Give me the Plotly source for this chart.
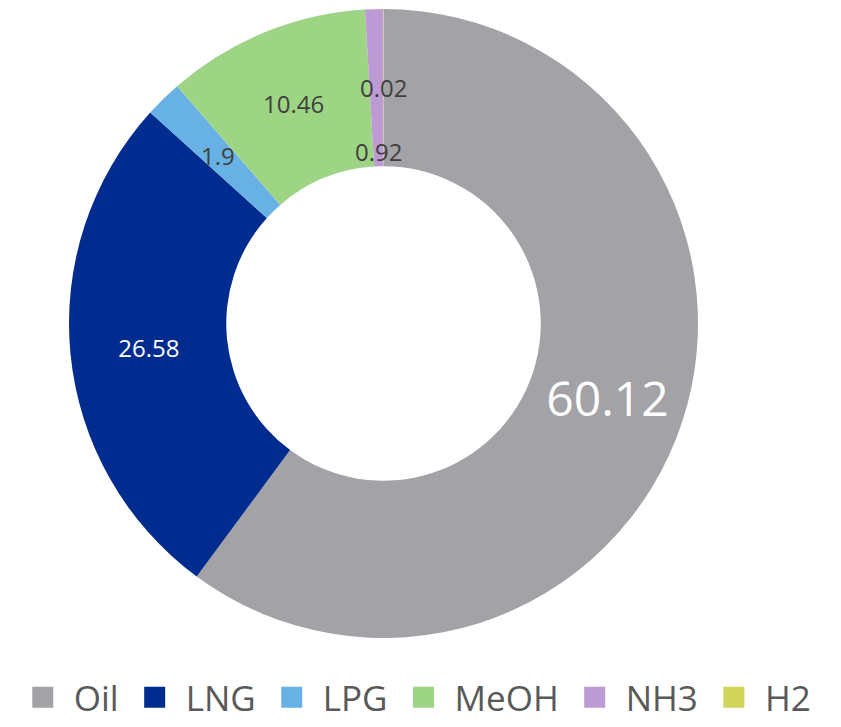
import math
import plotly.graph_objects as go

categories = ["Oil", "LNG", "LPG", "MeOH", "NH3", "H2"]
values = [60.12, 26.58, 1.9, 10.46, 0.92, 0.02]
colors = ["#A3A2A7", "#002B8F", "#67B1E5", "#9DD584", "#BC9AD4", "#D0D65A"]
label_colors = ["#FFFFFF", "#FFFFFF", "#404040", "#404040", "#404040", "#404040"]
label_sizes = [48, 24, 24, 24, 24, 24]
# labels drawn by the pie itself vs. placed as annotations (too small slices)
inside = [True, True, False, True, False, False]
label_radius = [0.75, 0.75, 0.75, 0.75, 0.546, 0.75]

FONT = "Open Sans, Noto Sans, sans-serif"
W, H = 841, 727
MT, MB = 9, 89
PLOT_H = H - MT - MB            # 629
DOM_X = [69 / W, (69 + PLOT_H) / W]

fig = go.Figure()
fig.add_trace(go.Pie(
    labels=categories,
    values=values,
    hole=0.5,
    sort=False,
    direction="clockwise",
    rotation=0,
    marker=dict(colors=colors, line=dict(width=0)),
    text=[f"{v:g}" for v in values],
    textinfo="text",
    textposition=["inside" if i else "none" for i in inside],
    insidetextorientation="horizontal",
    insidetextfont=dict(family=FONT, size=label_sizes, color=label_colors),
    showlegend=False,
    domain=dict(x=DOM_X, y=[0, 1]),
))

# legend entries
for c, col in zip(categories, colors):
    fig.add_trace(go.Scatter(
        x=[None], y=[None], mode="markers", name=c,
        marker=dict(symbol="square", size=16, color=col,
                    line=dict(width=5, color=col)),
    ))

# annotations for small slices, positioned from cumulative data angles
total = sum(values)
cx = (DOM_X[0] + DOM_X[1]) / 2
rx = (DOM_X[1] - DOM_X[0]) / 2
annotations = []
cum = 0.0
for i, v in enumerate(values):
    mid = (cum + v / 2) / total * 2 * math.pi
    cum += v
    if inside[i]:
        continue
    rf = label_radius[i]
    annotations.append(dict(
        x=cx + rx * rf * math.sin(mid),
        y=0.5 + 0.5 * rf * math.cos(mid),
        xref="paper", yref="paper",
        text=f"{v:g}", showarrow=False,
        font=dict(family=FONT, size=label_sizes[i], color=label_colors[i]),
        xanchor="center", yanchor="middle",
    ))

fig.update_layout(
    width=W, height=H,
    margin=dict(l=0, r=0, t=MT, b=MB),
    paper_bgcolor="white", plot_bgcolor="white",
    xaxis=dict(visible=False), yaxis=dict(visible=False),
    annotations=annotations,
    legend=dict(
        orientation="h",
        xref="paper", yref="container",
        x=0.492, xanchor="center",
        y=-0.018, yanchor="bottom",
        font=dict(family=FONT, size=35, color="#595959"),
        itemwidth=52,
        bgcolor="rgba(0,0,0,0)",
    ),
    font=dict(family=FONT),
)

fig.write_html("out.html", config={"displayModeBar": False},
               post_script="document.body.style.margin='0px';")
